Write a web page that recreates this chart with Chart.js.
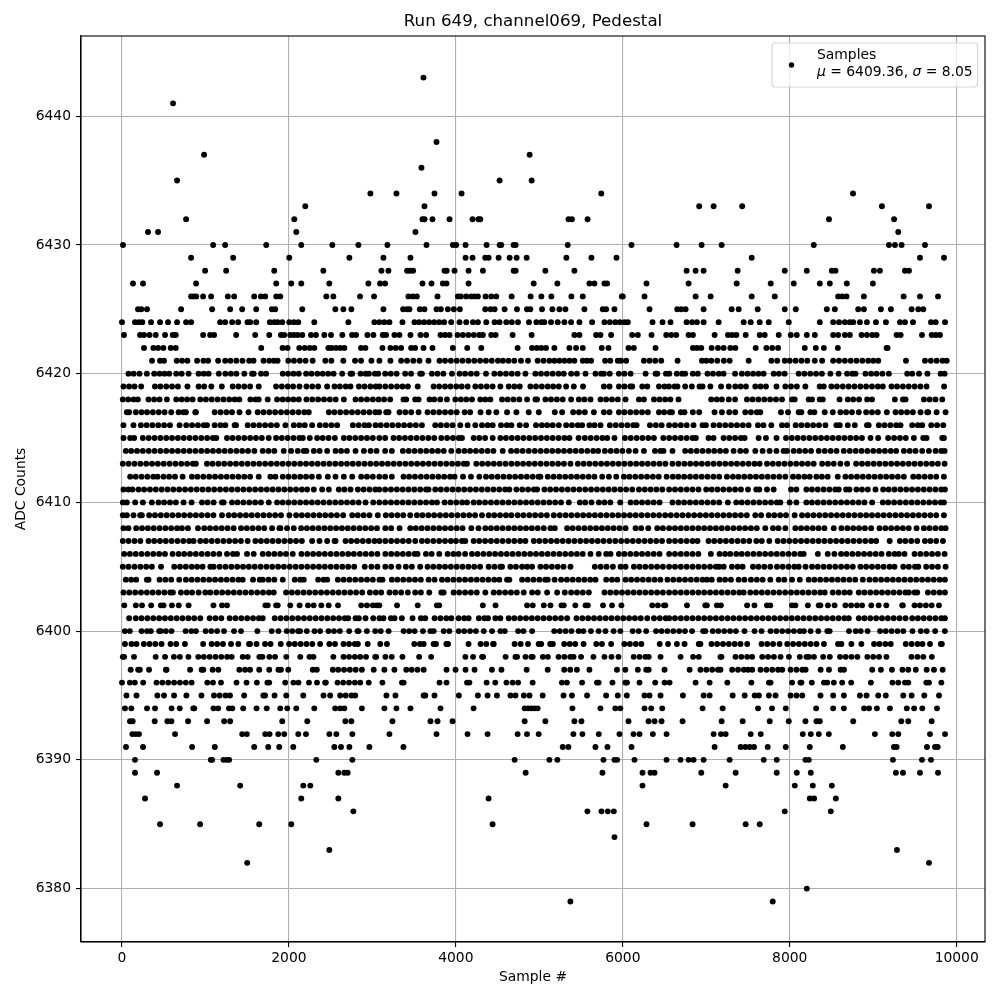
<!DOCTYPE html>
<html><head><meta charset="utf-8">
<script src="https://cdn.jsdelivr.net/npm/chart.js@4"></script>
<style>html,body{margin:0;padding:0;background:#fff}canvas{display:block}</style>
</head><body><canvas id="c" width="1000" height="1000"></canvas>
<script>
const chartTitle = "Run 649, channel069, Pedestal";
const xTitle = "Sample #";
const yTitle = "ADC Counts";
const seriesName = "Samples";
const mu = "6409.36";
const sigma = "8.05";
const xTicks = [0,2000,4000,6000,8000,10000];
const yTicks = [6380,6390,6400,6410,6420,6430,6440];

// Sample numbers, one list per ADC level.
const row6443=[3612];
const row6441=[612];
const row6438=[3768];
const row6437=[984,4884];
const row6436=[3588];
const row6435=[660,4524,4908];
const row6434=[2976,3288,3744,4068,5742,8758];
const row6433=[2196,3624,6915,7088,7430,9104,9668];
const row6432=[768,2064,3600,3625,3720,3924,4200,4270,4292,5350,5390,5578,8470,9250];
const row6431=[312,432,2088,3516,9300];
const row6430=[12,1092,1236,1728,2148,2520,2832,3180,3648,3964,4004,4116,4368,4524,4544,4692,4716,5340,6104,6644,6944,7184,8288,9188,9260,9340,9620];
const row6429=[828,1332,2004,2724,3132,3456,4116,4200,4352,4392,4512,4644,4728,4848,5324,5624,5924,7544,9560,9848];
const row6428=[996,1248,1824,2412,3108,3192,3416,3450,3488,3864,3890,3984,4152,4324,4692,4716,5072,5420,6764,6872,6968,7376,7940,8204,8504,8548,9008,9080,9380,9428];
const row6427=[132,252,888,1848,2028,2148,2484,2952,3092,3152,3600,3708,3844,3888,4152,4932,5216,5600,5660,5780,5812,6284,6788,7364,7772,8048,8360,8480,8684,8996];
const row6426=[828,860,890,972,1068,1268,1344,1584,1664,1716,1848,1896,2448,2532,2852,3020,3432,3484,3532,3780,4024,4060,4124,4184,4224,4264,4356,4424,4484,4668,4896,5024,5144,5384,5520,5988,6000,6260,6872,7052,7544,7820,8580,8628,8680,8888,9364,9560,9776];
const row6425=[192,232,300,708,1080,1296,1440,1608,1796,1836,2160,2556,2652,2748,3132,3368,3416,3444,3568,3624,3768,3820,3904,3976,4048,4352,4416,4464,4584,4732,4852,4892,5032,5156,5240,5312,5540,5760,5800,5900,6320,6652,6700,6752,6968,7304,7388,7616,7940,8072,8444,8540,8820,8888,9092,9212,9460,9540,9600];
const row6424=[0,156,204,244,348,456,552,660,768,828,1176,1236,1320,1392,1504,1536,1608,1772,1824,1864,1920,2004,2060,2112,2304,2712,3024,3084,3144,3204,3360,3504,3560,3620,3680,3740,3800,3860,3944,4044,4124,4204,4264,4364,4464,4524,4604,4670,4744,4876,4964,5024,5060,5140,5220,5300,5380,5480,5632,5780,5845,5910,5965,6020,6060,6356,6476,6572,6764,6830,6888,6968,7148,7448,7532,7640,7748,7988,8360,8520,8590,8660,8720,8760,8840,8924,9032,9152,9320,9380,9476,9692,9748,9860];
const row6423=[24,216,264,330,404,516,608,644,972,1056,1104,1368,1596,1764,1904,1944,2016,2060,2104,2160,2264,2324,2424,2504,2640,2756,2804,2940,3012,3124,3164,3264,3324,3456,3576,3644,3816,3870,3924,4020,4084,4150,4215,4280,4324,4424,4476,4680,4908,5420,5480,5680,5732,5860,6112,6180,6344,6520,6580,6640,6788,6840,7100,7260,7310,7360,7472,7640,7700,7868,8012,8084,8204,8300,8520,8580,8660,8720,8860,8925,8990,9040,9280,9328,9584,9700,9750,9800];
const row6422=[264,376,432,496,584,644,1668,1924,1984,2124,2190,2250,2304,2472,2512,2564,2616,2664,2864,2916,3120,3216,3280,3344,3464,3512,3612,3720,3964,4136,4304,4740,4912,4970,5024,5080,5180,5360,5440,5520,5748,5828,6068,6132,6392,6840,6890,6940,7064,7140,7208,7288,7348,7592,7720,7790,7860,8180,8312,8408,8576,9160,9172];
const row6421=[360,456,504,656,720,784,900,976,1032,1152,1236,1300,1370,1444,1524,1576,1696,1764,1820,1864,1992,2060,2130,2200,2284,2436,2508,2652,2792,2864,2988,3084,3216,3344,3415,3490,3564,3672,3804,3870,3940,4010,4080,4150,4220,4290,4360,4430,4504,4564,4630,4700,4780,4864,4980,5050,5120,5180,5240,5300,5360,5420,5520,5570,5620,5788,5850,5940,5980,6040,6252,6320,6388,6460,6656,6948,7000,7060,7132,7210,7280,7508,7780,7850,7940,8000,8070,8140,8210,8300,8388,8520,8590,8660,8730,8800,8870,8940,9000,9060,9392,9620,9690,9760,9830,9880];
const row6420=[78,140,210,298,386,450,510,566,650,715,798,918,980,1038,1160,1238,1305,1370,1466,1558,1578,1666,1726,1926,1990,2055,2118,2206,2270,2340,2405,2470,2535,2638,2738,2758,2858,2920,2958,3030,3070,3153,3220,3290,3393,3463,3573,3593,3713,3780,3850,3953,4045,4110,4180,4250,4361,4461,4530,4600,4670,4740,4833,4953,5020,5090,5160,5230,5293,5381,5450,5553,5673,5740,5773,5843,5953,6020,6093,6273,6393,6413,6517,6557,6647,6710,6747,6839,6899,7015,7080,7150,7207,7345,7427,7495,7560,7625,7687,7807,7870,7939,8107,8175,8245,8315,8385,8487,8585,8687,8750,8787,8907,8975,9040,9110,9187,9407,9467,9549,9649,9807,9855];
const row6419=[18,85,150,230,395,460,530,600,670,784,918,985,1070,1196,1326,1395,1465,1535,1638,1846,1915,1985,2050,2126,2210,2280,2350,2458,2546,2610,2680,2738,2838,2905,2975,3040,3085,3155,3225,3295,3360,3425,3543,3733,3800,3870,3935,4005,4070,4141,4233,4300,4370,4440,4533,4633,4700,4765,4893,4960,5030,5100,5165,5233,5321,5413,5523,5773,5841,5953,6020,6090,6113,6233,6293,6433,6500,6553,6620,6655,6747,6827,6919,6955,7049,7177,7269,7347,7410,7475,7587,7650,7715,7841,7947,8015,8085,8187,8359,8407,8499,8565,8635,8705,8775,8845,8915,8985,9055,9115,9219,9285,9355,9425,9495,9565,9639,9849];
const row6418=[10,75,140,190,318,385,450,538,650,715,780,846,938,1005,1075,1145,1215,1285,1350,1406,1538,1600,1638,1746,1858,1925,1990,2055,2118,2210,2280,2350,2420,2490,2560,2658,2798,2865,2935,3005,3073,3140,3213,3373,3405,3513,3553,3685,3741,3813,3893,3993,4060,4125,4193,4293,4353,4413,4553,4620,4690,4760,4853,4953,4973,5073,5140,5210,5280,5381,5473,5540,5613,5733,5800,5870,5940,6033,6193,6253,6373,6440,6507,6570,6667,7059,7125,7187,7269,7345,7487,7555,7625,7695,7765,7835,7907,8027,8059,8227,8267,8359,8395,8597,8695,8760,8830,8927,8985,9259,9355,9387,9607,9675,9745,9827];
const row6417=[58,86,166,235,300,370,440,510,590,678,735,766,878,886,1110,1180,1250,1318,1408,1516,1626,1695,1765,1835,1905,1975,2045,2115,2185,2238,2478,2545,2615,2685,2755,2825,2895,2965,3035,3081,3165,3193,3325,3395,3465,3553,3661,3730,3800,3870,3940,4010,4105,4171,4295,4393,4485,4613,4725,4873,4993,5185,5273,5405,5475,5545,5653,5773,5841,5953,6020,6090,6160,6230,6300,6433,6495,6563,6589,6695,6739,6839,6915,7099,7187,7275,7347,7467,7535,7605,7647,7895,7979,8107,8139,8247,8295,8419,8515,8607,8675,8745,8827,8915,8985,9055,9163,9267,9335,9405,9475,9567,9647,9659,9759,9867];
const row6416=[18,138,226,295,365,435,505,575,690,770,840,910,980,1018,1110,1180,1238,1350,1366,1506,1575,1645,1715,1785,1855,1958,2058,2125,2190,2278,2370,2440,2510,2578,2766,2835,2905,2958,3038,3100,3170,3240,3310,3380,3450,3520,3593,3753,3820,3890,3960,4053,4141,4233,4313,4380,4441,4541,4610,4665,4765,4841,4960,5030,5093,5160,5233,5321,5390,5460,5513,5600,5661,5733,5845,5915,5985,6055,6125,6165,6325,6395,6465,6555,6625,6695,6765,6847,6955,6995,7087,7157,7227,7297,7367,7437,7507,7619,7685,7779,7907,7967,8071,8140,8210,8280,8350,8427,8559,8599,8695,8779,8925,8945,9067,9135,9205,9275,9327,9467,9535,9587,9695,9765,9839];
const row6415=[18,98,146,250,320,390,460,530,600,670,740,810,880,950,1020,1090,1130,1258,1325,1395,1465,1535,1605,1675,1758,1846,1915,1985,2055,2125,2166,2250,2338,2405,2475,2550,2658,2725,2795,2865,2935,3005,3083,3153,3253,3320,3390,3460,3530,3600,3670,3741,3825,3895,3965,4035,4073,4213,4280,4350,4441,4533,4600,4670,4740,4810,4880,4950,5020,5090,5160,5230,5300,5361,5470,5545,5615,5685,5755,5813,5900,6025,6095,6165,6235,6305,6373,6485,6555,6625,6695,6765,6835,6875,7027,7087,7207,7275,7345,7415,7459,7627,7715,7841,7955,8025,8095,8165,8235,8305,8375,8445,8515,8585,8655,8725,8795,8865,8967,9059,9179,9250,9320,9390,9487,9599,9639,9827,9847];
const row6414=[46,110,180,250,320,390,460,530,600,670,740,810,880,950,1020,1090,1160,1230,1300,1370,1440,1510,1586,1686,1755,1825,1938,2026,2106,2178,2210,2298,2368,2458,2558,2625,2695,2798,2898,2978,3050,3153,3233,3365,3435,3505,3575,3645,3715,3785,3855,3945,4033,4103,4170,4240,4310,4380,4450,4561,4661,4730,4800,4873,4945,5015,5085,5155,5225,5295,5365,5435,5505,5575,5645,5705,5785,5855,5925,5995,6073,6153,6253,6385,6450,6487,6595,6747,6815,6885,6955,7025,7095,7165,7235,7327,7407,7475,7587,7675,7759,7841,7927,7967,8047,8115,8185,8255,8347,8419,8490,8560,8647,8719,8790,8860,8930,9000,9070,9140,9210,9275,9367,9437,9507,9587,9667,9747,9815,9855];
const row6413=[10,80,150,220,290,360,430,500,570,640,710,780,850,886,1018,1085,1155,1225,1295,1365,1435,1505,1575,1645,1715,1785,1855,1925,1995,2065,2135,2205,2275,2345,2415,2485,2555,2625,2695,2765,2835,2905,2975,3045,3115,3185,3255,3325,3395,3465,3535,3605,3675,3745,3815,3885,3955,4025,4095,4133,4245,4315,4385,4455,4525,4595,4665,4735,4805,4875,4945,5015,5085,5155,5225,5295,5373,5461,5530,5600,5670,5740,5810,5880,5950,6020,6090,6160,6230,6300,6370,6440,6510,6595,6667,6737,6807,6877,6947,7017,7087,7157,7227,7297,7367,7437,7507,7577,7639,7727,7797,7867,7937,8007,8077,8147,8217,8287,8387,8457,8527,8607,8687,8795,8865,8935,9005,9075,9145,9215,9285,9355,9425,9495,9565,9635,9705,9775,9855];
const row6412=[98,165,235,305,375,426,498,565,635,726,838,905,975,1045,1115,1185,1255,1325,1395,1465,1535,1638,1778,1838,1926,1995,2065,2135,2205,2275,2358,2466,2558,2658,2758,2866,2935,3005,3083,3153,3233,3373,3440,3510,3580,3650,3720,3790,3860,3930,3985,4085,4181,4281,4361,4430,4500,4570,4640,4710,4780,4850,4920,4990,5013,5101,5170,5240,5310,5380,5450,5520,5590,5660,5753,5833,5921,6013,6080,6150,6220,6290,6360,6430,6525,6599,6665,6735,6805,6875,6945,7015,7085,7155,7247,7319,7385,7455,7525,7595,7665,7735,7805,7875,7947,8039,8105,8175,8239,8319,8385,8455,8575,8667,8735,8805,8875,8945,9015,9085,9155,9225,9295,9367,9479,9545,9615,9685,9755,9847];
const row6411=[18,78,126,198,265,335,405,475,545,615,685,755,825,895,965,1035,1105,1175,1245,1315,1385,1455,1525,1595,1665,1735,1805,1875,1945,2015,2085,2155,2218,2298,2398,2478,2598,2665,2738,2826,2895,2965,3035,3083,3153,3223,3293,3363,3433,3503,3573,3643,3673,3753,3820,3890,3960,4030,4100,4170,4240,4310,4380,4450,4520,4590,4641,4725,4795,4865,4935,4973,5061,5130,5200,5270,5340,5410,5480,5550,5620,5690,5760,5830,5900,5970,6040,6113,6193,6263,6333,6403,6473,6555,6625,6695,6765,6835,6907,6999,7065,7135,7205,7275,7345,7415,7499,7599,7635,7727,7807,8015,8079,8199,8265,8335,8405,8475,8545,8587,8675,8715,8799,8865,8935,9027,9119,9185,9255,9325,9395,9465,9535,9605,9675,9745,9815,9859];
const row6410=[10,58,158,250,358,438,505,575,645,738,834,958,1025,1098,1198,1218,1318,1385,1455,1525,1595,1665,1758,1858,1925,1995,2065,2135,2205,2275,2345,2415,2485,2555,2625,2695,2765,2835,2918,3010,3083,3153,3223,3293,3363,3433,3503,3573,3643,3713,3773,3865,3935,4005,4075,4133,4213,4280,4350,4420,4490,4560,4630,4700,4770,4840,4910,4980,5050,5120,5190,5260,5353,5485,5550,5625,5713,5780,5850,5969,6093,6160,6230,6300,6370,6440,6595,6667,6735,6805,6875,6945,7015,7085,7155,7259,7359,7425,7495,7565,7635,7705,7775,7845,7887,7999,8079,8199,8265,8335,8405,8475,8545,8615,8685,8755,8825,8895,8987,9115,9180,9250,9320,9390,9460,9530,9600,9670,9740,9810,9847];
const row6409=[10,58,138,218,238,326,395,465,535,605,675,745,815,885,955,1025,1095,1198,1278,1345,1415,1485,1555,1625,1695,1765,1835,1905,2006,2086,2155,2225,2295,2365,2435,2505,2575,2650,2758,2825,2895,2965,3065,3161,3230,3300,3370,3453,3533,3600,3670,3740,3810,3880,3950,4020,4090,4160,4230,4313,4393,4460,4530,4600,4665,4741,4810,4880,4950,5020,5090,5173,5245,5315,5385,5455,5525,5595,5665,5735,5805,5875,5945,6015,6085,6155,6225,6295,6365,6435,6507,6575,6645,6715,6785,6855,6925,6995,7065,7135,7205,7275,7345,7415,7485,7587,7657,7747,7815,7885,7955,8059,8147,8215,8285,8355,8425,8495,8565,8635,8705,8775,8845,8915,8985,9055,9125,9195,9265,9335,9405,9475,9545,9615,9685,9755,9847];
const row6408=[18,78,170,240,310,380,450,520,590,660,718,790,910,986,1055,1125,1195,1265,1338,1426,1495,1565,1635,1705,1798,1886,1898,1978,2058,2146,2215,2285,2355,2425,2495,2565,2635,2705,2775,2845,2915,2985,3055,3155,3225,3325,3453,3520,3590,3660,3730,3800,3870,3940,4010,4080,4185,4271,4353,4420,4490,4560,4630,4700,4770,4840,4910,4980,5053,5133,5185,5333,5400,5470,5540,5610,5680,5750,5820,5890,5960,6033,6153,6220,6305,6413,6480,6555,6625,6695,6765,6835,6905,6975,7045,7115,7185,7255,7325,7395,7465,7535,7605,7707,7799,7865,7947,8067,8135,8205,8275,8345,8415,8527,8619,8690,8760,8830,8900,8975,9075,9145,9215,9285,9355,9425,9519,9607,9675,9745,9815,9867];
const row6407=[10,78,150,220,318,386,455,525,595,665,735,805,858,938,1005,1075,1145,1215,1285,1355,1425,1506,1598,1665,1735,1805,1875,1945,2015,2085,2155,2278,2366,2458,2546,2558,2678,2745,2815,2885,2955,3025,3085,3155,3225,3295,3365,3435,3513,3593,3660,3730,3800,3870,3940,4001,4073,4113,4213,4280,4350,4420,4490,4560,4630,4700,4770,4833,4933,5000,5070,5140,5210,5280,5350,5420,5490,5560,5630,5700,5770,5840,5910,5980,6050,6120,6190,6260,6330,6400,6470,6555,6625,6695,6765,6835,6895,7027,7095,7165,7235,7305,7375,7445,7515,7599,7665,7755,7855,7925,7995,8065,8135,8205,8275,8345,8415,8485,8555,8625,8695,8765,8835,8905,8975,9035,9197,9319,9385,9455,9527,9619,9685,9755,9835];
const row6406=[26,95,165,235,305,375,445,515,606,678,745,815,885,955,1025,1095,1166,1258,1330,1378,1498,1578,1686,1755,1825,1895,1965,2046,2150,2220,2290,2360,2430,2500,2570,2640,2710,2778,2850,2920,2990,3060,3155,3225,3295,3365,3435,3505,3541,3641,3710,3801,3901,3970,4033,4111,4193,4260,4330,4400,4470,4540,4610,4680,4750,4820,4890,4960,5030,5100,5170,5240,5310,5380,5450,5520,5613,5711,5801,5853,5953,6020,6090,6160,6230,6300,6370,6440,6555,6625,6695,6765,6835,6905,7055,7159,7225,7287,7359,7425,7495,7565,7635,7705,7775,7845,7915,7985,8055,8125,8167,8337,8455,8535,8615,8680,8750,8820,8890,8960,9030,9099,9187,9255,9307,9375,9495,9565,9635,9705,9775,9855];
const row6405=[10,78,150,220,290,358,468,626,695,765,835,900,966,1058,1098,1170,1240,1310,1380,1450,1520,1590,1660,1730,1800,1870,1940,2010,2080,2150,2220,2290,2360,2430,2500,2570,2640,2710,2782,2908,2988,3060,3155,3225,3313,3401,3473,3573,3661,3730,3800,3870,3940,4010,4080,4150,4220,4290,4393,4463,4533,4553,4653,4720,4793,4853,4913,5013,5080,5150,5220,5290,5373,5665,5735,5805,5881,5973,6033,6133,6200,6270,6340,6410,6480,6555,6625,6695,6765,6835,6905,6975,7045,7115,7155,7209,7307,7375,7435,7559,7625,7695,7767,7847,7915,7985,8055,8107,8189,8267,8335,8405,8475,8545,8615,8685,8755,8847,8915,8985,9055,9125,9195,9255,9359,9427,9500,9540,9635,9705,9775,9867];
const row6404=[46,110,170,298,318,450,520,590,686,766,835,905,975,1045,1115,1185,1255,1325,1395,1446,1570,1650,1686,1755,1825,1926,2070,2135,2178,2350,2415,2458,2586,2655,2725,2795,2865,2935,3005,3085,3121,3233,3300,3370,3440,3510,3580,3673,3745,3833,3900,3970,4040,4110,4180,4250,4320,4390,4460,4521,4613,4641,4793,4860,4930,5000,5070,5101,5183,5261,5330,5400,5470,5540,5610,5673,5801,5870,5933,6033,6100,6170,6240,6310,6380,6450,6535,6605,6675,6745,6815,6885,6955,7007,7065,7159,7225,7295,7387,7457,7535,7605,7675,7767,7867,7935,8027,8120,8227,8295,8365,8435,8505,8575,8645,8715,8785,8875,8955,9025,9095,9165,9235,9305,9375,9445,9515,9585,9655,9725,9795,9859];
const row6403=[18,88,158,228,298,368,438,508,578,610,706,775,840,918,998,1058,1130,1200,1270,1340,1410,1480,1550,1620,1690,1760,1818,1966,2035,2105,2175,2245,2315,2385,2455,2525,2595,2665,2735,2805,2878,2970,3040,3105,3205,3275,3345,3425,3513,3581,3681,3825,3853,3973,4040,4110,4180,4250,4353,4453,4520,4590,4660,4730,4813,4913,4981,5093,5213,5305,5381,5450,5520,5593,5781,5850,5920,5990,6060,6130,6200,6270,6340,6410,6480,6555,6625,6695,6765,6835,6905,6975,7045,7115,7185,7255,7325,7395,7447,7527,7595,7665,7735,7805,7875,7945,8015,8085,8155,8225,8295,8365,8419,8515,8585,8655,8719,8827,8895,8965,9035,9105,9175,9245,9315,9385,9427,9495,9527,9655,9725,9795,9859];
const row6402=[28,166,240,350,466,498,598,680,798,1096,1198,1258,1718,1746,1846,1866,2016,2128,2228,2296,2388,2476,2588,2866,2935,3005,3050,3083,3295,3543,3773,3801,4323,4475,4853,4921,5053,5133,5265,5293,5431,5553,5581,5763,5871,5983,6353,6420,6493,6509,6769,6987,7007,7127,7175,7489,7577,7727,7767,8027,8067,8217,8347,8367,8457,8537,8667,8735,8805,8867,8977,9065,9157,9347,9355,9495,9560,9630,9700,9787];
const row6401=[86,166,235,305,375,445,515,585,655,725,795,865,938,1050,1120,1190,1290,1360,1430,1500,1570,1640,1686,1830,1900,1970,2040,2110,2180,2250,2320,2390,2460,2530,2600,2670,2710,2798,2838,2918,3010,3085,3133,3221,3265,3353,3481,3581,3633,3745,3815,3885,3945,4033,4100,4153,4275,4341,4385,4473,4533,4633,4700,4770,4840,4910,4980,5050,5120,5190,5260,5333,5445,5515,5585,5655,5725,5795,5865,5935,6005,6075,6145,6215,6293,6373,6443,6513,6555,6625,6695,6765,6835,6905,6975,7045,7115,7185,7255,7325,7395,7465,7535,7605,7675,7745,7815,7885,7955,8025,8095,8165,8235,8305,8375,8445,8515,8585,8655,8707,8827,8895,8965,9035,9105,9175,9245,9315,9387,9467,9535,9605,9675,9745,9815,9859];
const row6400=[34,94,234,300,346,446,466,526,594,762,830,886,1002,1070,1140,1222,1342,1426,1622,1794,1874,1974,2040,2110,2134,2214,2306,2374,2474,2540,2610,2722,2822,2834,2934,3034,3100,3194,3374,3440,3506,3606,3694,3734,3854,3922,4034,4100,4170,4240,4334,4434,4534,4586,4746,4810,4914,5178,5245,5315,5385,5470,5528,5618,5710,5792,5890,5970,6118,6190,6280,6398,6465,6535,6605,6675,6745,6830,6962,6990,7078,7145,7215,7285,7355,7458,7578,7662,7770,7840,7910,7980,8050,8120,8170,8250,8342,8450,8478,8710,8790,8850,8932,9082,9150,9220,9290,9360,9470,9570,9640,9742,9858];
const row6399=[36,114,174,262,330,400,474,582,650,754,972,1074,1140,1210,1306,1394,1522,1534,1612,1714,1780,1902,2002,2070,2140,2210,2280,2374,2484,2552,2654,2720,2790,2826,2944,3094,3174,3502,3570,3614,3734,3762,3886,3906,4152,4296,4364,4446,4454,4704,4776,4864,4992,5022,5130,5162,5298,5365,5430,5530,5682,5750,5860,6018,6085,6155,6222,6442,6542,6648,6740,6910,6930,7062,7130,7200,7270,7340,7410,7490,7662,7730,7800,7878,7970,8040,8110,8180,8250,8320,8410,8578,8618,8738,8858,9010,9075,9145,9210,9390,9460,9530,9590,9680,9810,9822];
const row6398=[10,26,144,404,516,622,694,796,914,980,1050,1120,1190,1260,1314,1446,1506,1646,1682,1766,1834,1968,2136,2246,2294,2532,2654,2720,2790,2854,2924,3034,3046,3156,3232,3360,3560,3704,4114,4206,4314,4326,4596,4714,4734,4834,4904,4920,5042,5102,5230,5300,5370,5410,5500,5648,5780,5864,5948,6130,6200,6270,6310,6452,6692,6842,6910,7170,7182,7350,7420,7490,7550,7670,7740,7810,7890,7990,8120,8200,8230,8290,8400,8480,8602,8670,8740,8810,8930,9000,9070,9158,9458,9530,9600,9702];
const row6397=[104,194,214,324,526,534,816,954,974,1086,1154,1406,1474,1534,1644,1764,1874,1904,1992,2286,2334,2526,2590,2660,2730,2800,2874,3016,3144,3264,3406,3470,3540,3614,3888,3996,4116,4224,4432,4546,4848,5100,5298,5370,5450,5600,5930,6030,6180,6280,6310,6500,6800,6930,7000,7070,7140,7170,7310,7380,7450,7500,7550,7650,7720,7790,7860,7910,8010,8080,8150,8190,8370,8470,8610,8650,8988,9092,9224,9350,9420,9510,9640,9728,9832];
const row6396=[0,94,154,254,414,484,554,624,694,764,834,1022,1090,1186,1372,1492,1616,1742,1764,1956,2054,2114,2240,2336,2434,2442,2582,2650,2720,2790,2854,2956,3120,3354,3374,3804,3888,4134,4162,4368,4472,4606,4680,4746,4920,5270,5330,5512,5690,5710,5876,6030,6050,6200,6388,6500,6560,6872,7040,7252,7540,7750,7770,8028,8128,8140,8264,8410,8450,8528,8628,8736,8972,9230,9300,9380,9420,9636,9668,9816];
const row6395=[54,174,424,504,624,772,952,1102,1170,1240,1294,1464,1694,1714,1828,1968,2172,2414,2494,2614,2680,2750,2794,3168,3276,3614,3634,3744,4036,4264,4380,4492,4654,4714,4814,4882,5040,5290,5390,5572,5800,5940,6048,6260,6320,6452,6720,6968,7040,7316,7460,7580,7630,7750,7830,8010,8080,8150,8368,8520,8648,8840,8920,9060,9150,9360,9460,9612,9788];
const row6394=[36,112,300,396,594,692,854,866,1096,1152,1282,1322,1452,1612,1734,1896,1980,2088,2304,2554,2614,2664,2874,3144,3288,3456,3816,4212,4824,4864,4904,4944,4980,5396,5732,5910,5970,6260,6340,6472,6956,7196,7620,7788,7952,8316,8520,8648,8890,8950,9044,9200,9402,9490,9588,9764];
const row6393=[96,128,392,544,592,792,1020,1224,1296,1920,2220,2676,2748,3240,3696,3780,3960,4824,5072,5420,5504,6068,6308,6380,6464,6716,7184,7436,7760,7988,8188,8320,8360,8760,9336,9420,9700];
const row6392=[124,164,204,636,1440,1496,1716,1768,1872,1944,2112,2204,2484,2568,2760,3204,3768,4140,4380,4740,4852,4992,5408,5516,5712,5960,6128,6200,6360,6524,7088,7176,7232,7532,7652,8156,8252,8348,8468,9020,9228,9300,9680,9860];
const row6391=[48,252,840,1112,1584,1752,1884,2052,2544,2624,2724,2964,3372,5280,5348,5672,5816,6104,7100,7412,7468,7520,7572,7736,7952,8240,8636,9248,9280,9644,9740,9772];
const row6390=[156,1064,1080,1216,1256,1284,2328,2760,4704,5120,5216,5768,5900,5932,6140,6524,6692,6788,6848,6968,7280,7688,7844,8188,8228,9236,9584,9692];
const row6389=[156,420,2592,2664,2704,4836,5756,6236,6332,6380,6940,7352,7844,8084,8252,9272,9356,9560,9776];
const row6388=[660,1416,2172,2256,6236,7232,8060,8276,8504];
const row6387=[276,2148,2592,4392,8240,8292,8552];
const row6386=[2772,5576,5744,5820,5892,7940,8492];
const row6385=[456,936,1644,2028,4440,6284,6836,7472,7640];
const row6384=[5900];
const row6383=[2484,9284];
const row6382=[1500,9668];
const row6380=[8204];
const row6379=[5372,7796];

const adcLevels=[6443,6441,6438,6437,6436,6435,6434,6433,6432,6431,6430,6429,6428,6427,6426,6425,6424,6423,6422,6421,6420,6419,6418,6417,6416,6415,6414,6413,6412,6411,6410,6409,6408,6407,6406,6405,6404,6403,6402,6401,6400,6399,6398,6397,6396,6395,6394,6393,6392,6391,6390,6389,6388,6387,6386,6385,6384,6383,6382,6380,6379];
const levelRows=[row6443,row6441,row6438,row6437,row6436,row6435,row6434,row6433,row6432,row6431,row6430,row6429,row6428,row6427,row6426,row6425,row6424,row6423,row6422,row6421,row6420,row6419,row6418,row6417,row6416,row6415,row6414,row6413,row6412,row6411,row6410,row6409,row6408,row6407,row6406,row6405,row6404,row6403,row6402,row6401,row6400,row6399,row6398,row6397,row6396,row6395,row6394,row6393,row6392,row6391,row6390,row6389,row6388,row6387,row6386,row6385,row6384,row6383,row6382,row6380,row6379];

const points=[];
adcLevels.forEach((lvl,i)=>levelRows[i].forEach(s=>points.push({x:s,y:lvl})));

const FONT='"DejaVu Sans", sans-serif';
const frameAndLegend={
  id:'frameAndLegend',
  afterDraw(chart){
    const {ctx,chartArea:a}=chart;
    ctx.save();
    ctx.strokeStyle='#000';ctx.lineWidth=1.1;
    ctx.strokeRect(a.left,a.top,a.right-a.left,a.bottom-a.top);
    const bx=772,by=43,bw=205.5,bh=44;
    ctx.beginPath();ctx.roundRect(bx,by,bw,bh,3);
    ctx.fillStyle='rgba(255,255,255,0.8)';ctx.fill();
    ctx.strokeStyle='rgba(204,204,204,0.8)';ctx.lineWidth=1.1;ctx.stroke();
    ctx.fillStyle='#000';
    ctx.beginPath();ctx.arc(791.5,65,2.7,0,Math.PI*2);ctx.fill();
    ctx.textBaseline='alphabetic';ctx.textAlign='left';
    ctx.font='13.89px '+FONT;
    ctx.fillText(seriesName,817,59);
    const parts=[['\u03bc',1],[' = '+mu+', ',0],['\u03c3',1],[' = '+sigma,0]];
    let x=817;
    parts.forEach(([t,it])=>{
      ctx.font=(it?'italic ':'')+'13.89px '+FONT;
      ctx.fillText(t,x,76);
      x+=ctx.measureText(t).width;
    });
    ctx.restore();
  }
};

new Chart(document.getElementById('c'),{
  type:'scatter',
  data:{datasets:[{label:seriesName,data:points,showLine:false,pointRadius:2.95,pointHoverRadius:2.95,pointBackgroundColor:'#000',pointBorderWidth:0,borderWidth:0,backgroundColor:'#000'}]},
  plugins:[frameAndLegend],
  options:{
    responsive:false,animation:false,
    layout:{padding:{left:0,right:15,top:0,bottom:0}},
    plugins:{
      legend:{display:false},
      tooltip:{enabled:false},
      title:{display:true,text:chartTitle,fullSize:false,color:'#000',font:{family:FONT,size:16.67,weight:'normal',lineHeight:1.2},padding:{top:12,bottom:4}}
    },
    scales:{
      x:{type:'linear',min:-491,max:10339,
        afterBuildTicks(s){s.ticks=xTicks.map(v=>({value:v}));},
        afterFit(s){s.height=58;},
        grid:{color:'#b0b0b0',lineWidth:1.1,tickColor:'#000',tickLength:5,tickWidth:1.1},
        border:{color:'#000',width:1.1},
        ticks:{color:'#000',font:{family:FONT,size:13.89},padding:3,maxRotation:0,autoSkip:false,callback:v=>String(v)},
        title:{display:true,text:xTitle,color:'#000',font:{family:FONT,size:13.89,weight:'normal'},padding:{top:0,bottom:14.7}}
      },
      y:{type:'linear',min:6375.85,max:6446.23,
        afterBuildTicks(s){s.ticks=yTicks.map(v=>({value:v}));},
        afterFit(s){s.width=81;},
        grid:{color:'#b0b0b0',lineWidth:1.1,tickColor:'#000',tickLength:5,tickWidth:1.1},
        border:{color:'#000',width:1.1},
        ticks:{color:'#000',font:{family:FONT,size:13.89},padding:5,autoSkip:false,callback:v=>String(v)},
        title:{display:true,text:yTitle,color:'#000',font:{family:FONT,size:13.89,weight:'normal'},padding:{top:12.7,bottom:0}}
      }
    }
  }
});
</script></body></html>
